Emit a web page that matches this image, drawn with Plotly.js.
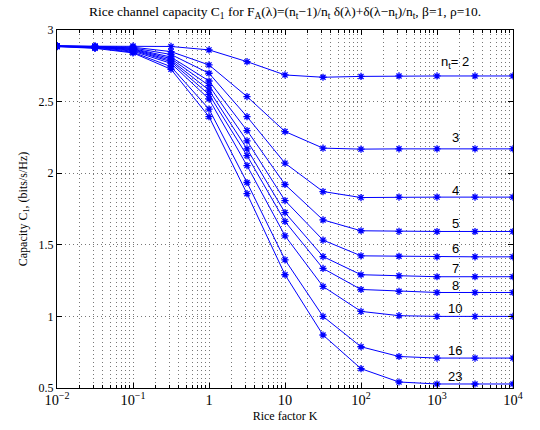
<!DOCTYPE html>
<html>
<head>
<meta charset="utf-8">
<script src="https://cdn.plot.ly/plotly-3.0.1.min.js"></script>
<style>html,body{margin:0;padding:0;background:#fff;}#chart{width:540px;height:430px;}</style>
</head>
<body>
<div id="chart"></div>
<script>
// Rice factor K values (half-decade steps)
const riceK = [0.01, 0.03162, 0.1, 0.3162, 1, 3.162, 10, 31.62, 100, 316.2, 1000, 3162, 10000];

// number of transmit antennas per curve
const ntValues = [2, 3, 4, 5, 6, 7, 8, 10, 16, 23];

// capacity C1 (bits/s/Hz) for each n_t
const cap_nt2  = [2.888, 2.888, 2.888, 2.885, 2.861, 2.779, 2.686, 2.670, 2.676, 2.679, 2.679, 2.679, 2.679];
const cap_nt3  = [2.888, 2.886, 2.880, 2.849, 2.756, 2.535, 2.291, 2.175, 2.168, 2.170, 2.170, 2.170, 2.170];
const cap_nt4  = [2.888, 2.885, 2.875, 2.829, 2.698, 2.395, 2.070, 1.872, 1.830, 1.833, 1.833, 1.833, 1.833];
const cap_nt5  = [2.888, 2.884, 2.870, 2.811, 2.644, 2.298, 1.921, 1.674, 1.598, 1.594, 1.593, 1.593, 1.593];
const cap_nt6  = [2.887, 2.883, 2.866, 2.800, 2.612, 2.226, 1.809, 1.533, 1.423, 1.420, 1.416, 1.416, 1.416];
const cap_nt7  = [2.887, 2.882, 2.862, 2.789, 2.580, 2.170, 1.725, 1.418, 1.291, 1.283, 1.277, 1.277, 1.277];
const cap_nt8  = [2.887, 2.881, 2.858, 2.779, 2.550, 2.123, 1.663, 1.335, 1.188, 1.175, 1.167, 1.167, 1.167];
const cap_nt10 = [2.886, 2.879, 2.852, 2.767, 2.518, 2.053, 1.563, 1.209, 1.035, 1.005, 1.000, 1.000, 1.000];
const cap_nt16 = [2.885, 2.875, 2.845, 2.744, 2.448, 1.935, 1.395, 1.000, 0.788, 0.720, 0.709, 0.709, 0.709];
const cap_nt23 = [2.884, 2.872, 2.840, 2.726, 2.395, 1.857, 1.291, 0.870, 0.635, 0.542, 0.528, 0.528, 0.528];

const capSeries = [cap_nt2, cap_nt3, cap_nt4, cap_nt5, cap_nt6, cap_nt7, cap_nt8, cap_nt10, cap_nt16, cap_nt23];
const curveLabels = ['n<sub>t</sub>= 2', '3', '4', '5', '6', '7', '8', '10', '16', '23'];

const yTickVals = [0.5, 1, 1.5, 2, 2.5, 3];
const yTickText = ['0.5', '1', '1.5', '2', '2.5', '3'];

const labelShift = [12, 10, 6, 7, 7, 7, 6, 7, 7, 6];

const traces = capSeries.map((vals, i) => ({
  x: riceK, y: vals, type: 'scatter', mode: 'lines+markers',
  name: 'n_t=' + ntValues[i],
  line: {color: '#0000ff', width: 1},
  marker: {symbol: 'asterisk-open', size: 6, color: '#0000ff', line: {color: '#0000ff', width: 1.3}},
  showlegend: false, hoverinfo: 'skip'
}));

const annotations = capSeries.map((vals, i) => ({
  x: 3.24, y: vals[vals.length - 1], xref: 'x', yref: 'y',
  text: curveLabels[i], showarrow: false, yshift: labelShift[i] + 1,
  font: {family: 'Liberation Sans, Arial, sans-serif', size: 13, color: '#000'}
}));

const serif = 'Liberation Serif, Times New Roman, serif';

const layout = {
  width: 540, height: 430,
  margin: {l: 57, r: 27, t: 30, b: 42},
  paper_bgcolor: '#fff', plot_bgcolor: '#fff',
  title: {
    text: 'Rice channel capacity C<sub>1</sub> for F<sub>A</sub>(λ)=(n<sub>t</sub>−1)/n<sub>t</sub> δ(λ)+δ(λ−n<sub>t</sub>)/n<sub>t</sub>, β=1, ρ=10.',
    font: {family: serif, size: 13.5, color: '#000'},
    x: 0.528, xanchor: 'center', y: 0.985, yanchor: 'top'
  },
  xaxis: {
    type: 'log', range: [-2, 4], dtick: 1, exponentformat: 'power',
    showline: true, linecolor: '#000', linewidth: 1, mirror: 'ticks',
    ticks: 'inside', ticklen: 5, tickcolor: '#000', ticklabelstandoff: -1,
    showgrid: true, gridcolor: '#777', griddash: '1px,3px', gridwidth: 1, zeroline: false,
    minor: {dtick: 'D1', ticks: 'inside', ticklen: 3, tickcolor: '#000', showgrid: true, gridcolor: '#777', griddash: '1px,3px', gridwidth: 1},
    tickfont: {family: serif, size: 11.5, color: '#000'},
    title: {text: 'Rice factor K', font: {family: serif, size: 12, color: '#000'}, standoff: 4}
  },
  yaxis: {
    range: [0.5, 3], tickvals: yTickVals, ticktext: yTickText,
    showline: true, linecolor: '#000', linewidth: 1, mirror: 'ticks',
    ticks: 'inside', ticklen: 5, tickcolor: '#000',
    showgrid: true, gridcolor: '#777', griddash: '1px,3px', gridwidth: 1, zeroline: false,
    tickfont: {family: serif, size: 12, color: '#000'},
    title: {text: 'Capacity C<sub>1</sub>, (bits/s/Hz)', font: {family: serif, size: 12, color: '#000'}, standoff: 8}
  },
  annotations: annotations
};

Plotly.newPlot('chart', traces, layout, {staticPlot: true, displayModeBar: false});
</script>
</body>
</html>
